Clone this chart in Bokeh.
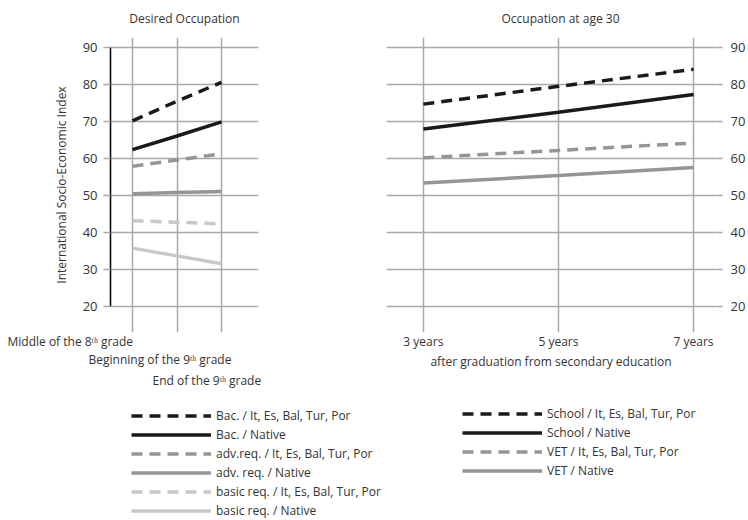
from bokeh.plotting import figure
from bokeh.models import FixedTicker, Legend, LegendItem, Title, Range1d
from bokeh.layouts import row, column
from bokeh.embed import file_html
from bokeh.resources import INLINE

# ---------------- data ----------------
left_x = [0, 1, 2]
left_labels = ["Middle of the 8ᵗʰ grade", "Beginning of the 9ᵗʰ grade", "End of the 9ᵗʰ grade"]
bac_it = [70.2, 75.5, 80.6]
bac_native = [62.4, 66.1, 69.9]
adv_it = [57.9, 59.6, 61.3]
adv_native = [50.5, 50.8, 51.1]
basic_it = [43.2, 42.8, 42.3]
basic_native = [35.8, 33.7, 31.6]

years = [3, 5, 7]
year_labels = ["3 years", "5 years", "7 years"]
school_it = [74.7, 79.5, 84.1]
school_native = [68.0, 72.5, 77.3]
vet_it = [60.2, 62.2, 64.2]
vet_native = [53.4, 55.4, 57.6]

y_ticks = [20, 30, 40, 50, 60, 70, 80, 90]

left_names = ["Bac. / It, Es, Bal, Tur, Por", "Bac. / Native",
              "adv.req. / It, Es, Bal, Tur, Por", "adv. req. / Native",
              "basic req. / It, Es, Bal, Tur, Por", "basic req. / Native"]
right_names = ["School / It, Es, Bal, Tur, Por", "School / Native",
               "VET / It, Es, Bal, Tur, Por", "VET / Native"]

FONT = "Open Sans"
TXT = "#333333"
GRID = "#a8a8a8"
BLACK = "#1a1a1a"
MID = "#959595"
LIGHT = "#c8c8c8"
DASH = "11 7"

styles = [(BLACK, DASH), (BLACK, "solid"), (MID, DASH), (MID, "solid"), (LIGHT, DASH), (LIGHT, "solid")]
left_series = [bac_it, bac_native, adv_it, adv_native, basic_it, basic_native]
right_series = [school_it, school_native, vet_it, vet_native]


def base(fig):
    fig.outline_line_color = None
    fig.background_fill_color = "white"
    fig.border_fill_color = "white"
    fig.title.text_font = FONT
    fig.title.text_font_size = "12px"
    fig.title.text_font_style = "normal"
    fig.title.text_color = TXT
    fig.title.standoff = 18
    fig.title.vertical_align = "top"
    fig.xgrid.grid_line_color = GRID
    fig.xgrid.grid_line_width = 1.5
    fig.ygrid.grid_line_color = GRID
    fig.ygrid.grid_line_width = 1.5
    fig.ygrid.ticker = FixedTicker(ticks=y_ticks)
    for ax in fig.yaxis:
        ax.ticker = FixedTicker(ticks=y_ticks)
        ax.minor_tick_line_color = None
        ax.major_tick_line_color = GRID
        ax.major_tick_line_width = 1.5
        ax.major_tick_out = 7
        ax.major_tick_in = 0
        ax.major_label_text_font = FONT
        ax.major_label_text_font_size = "13px"
        ax.major_label_text_color = TXT


def make_legend(items, loc):
    return Legend(items=items, location=loc, glyph_width=80, glyph_height=19, label_height=19,
                  spacing=0, padding=0, margin=0, label_standoff=5, background_fill_alpha=0,
                  border_line_color=None, label_text_font=FONT, label_text_font_size="12px",
                  label_text_color=TXT, label_text_baseline="middle")


# ---------------- left panel ----------------
p1 = figure(width=330, height=400, x_range=Range1d(-0.494, 2.83), y_range=Range1d(13.0, 92.7),
            output_backend="svg", toolbar_location=None, title="Desired Occupation",
            x_axis_location=None,
            min_border_left=110, min_border_right=72, min_border_top=37, min_border_bottom=68)
base(p1)
p1.title.align = "center"
p1.xgrid.ticker = FixedTicker(ticks=left_x)
ya = p1.yaxis[0]
ya.bounds = (20, 90)
ya.axis_line_color = "black"
ya.axis_line_width = 1.5
ya.major_label_standoff = 6
ya.axis_label = "International Socio-Economic Index"
ya.axis_label_text_font = FONT
ya.axis_label_text_font_size = "12px"
ya.axis_label_text_font_style = "normal"
ya.axis_label_text_color = TXT
ya.axis_label_standoff = 10

for ys, (col, dash) in zip(left_series, styles):
    p1.line(left_x, ys, line_color=col, line_width=3.5, line_dash=dash, line_cap="butt")

# staggered category labels under the left panel
label_shift = [-103, -22, 42]
label_stand = [-4, 2, 2]
for txt, dx, so in zip(left_labels, label_shift, label_stand):
    p1.add_layout(Title(text=txt, align="left", offset=dx, standoff=so,
                        text_font=FONT, text_font_size="12px", text_font_style="normal",
                        text_color=TXT), "below")

# ---------------- right panel ----------------
p2 = figure(width=418, height=400, x_range=Range1d(2.454, 7.325), y_range=Range1d(13.0, 92.7),
            output_backend="svg", toolbar_location=None, title="Occupation at age 30",
            y_axis_location="right",
            min_border_left=56, min_border_right=32, min_border_top=37, min_border_bottom=68)
base(p2)
p2.title.align = "left"
p2.title.offset = 115
p2.xgrid.ticker = FixedTicker(ticks=years)
xa = p2.xaxis[0]
xa.ticker = FixedTicker(ticks=years)
xa.major_label_overrides = {y: lab for y, lab in zip(years, year_labels)}
xa.axis_line_color = None
xa.major_tick_line_color = None
xa.minor_tick_line_color = None
xa.major_tick_out = 0
xa.major_tick_in = 0
xa.major_label_standoff = 0
xa.major_label_text_font = FONT
xa.major_label_text_font_size = "12px"
xa.major_label_text_color = TXT
xa.axis_label = "after graduation from secondary education"
xa.axis_label_text_font = FONT
xa.axis_label_text_font_size = "12px"
xa.axis_label_text_font_style = "normal"
xa.axis_label_text_color = TXT
xa.axis_label_standoff = 0
yb = p2.yaxis[0]
yb.axis_line_color = None
yb.major_label_standoff = 8

for ys, (col, dash) in zip(right_series, styles[:4]):
    p2.line(years, ys, line_color=col, line_width=3.5, line_dash=dash, line_cap="butt")

# ---------------- legends (keys for the two panels) ----------------
lf = figure(width=748, height=120, x_range=Range1d(100, 101), y_range=Range1d(100, 101),
            output_backend="svg", toolbar_location=None,
            x_axis_location=None, y_axis_location=None,
            min_border_left=0, min_border_right=0, min_border_top=0, min_border_bottom=0)
lf.outline_line_color = None
lf.grid.visible = False
lf.title.visible = False

items_l = []
for name, ys, (col, dash) in zip(left_names, left_series, styles):
    r = lf.line(left_x, ys, line_color=col, line_width=3.5, line_dash=dash, line_cap="butt")
    items_l.append(LegendItem(label=name, renderers=[r]))
items_r = []
for name, ys, (col, dash) in zip(right_names, right_series, styles[:4]):
    r = lf.line(years, ys, line_color=col, line_width=3.5, line_dash=dash, line_cap="butt")
    items_r.append(LegendItem(label=name, renderers=[r]))

lf.add_layout(make_legend(items_l, (131, 0)))
lf.add_layout(make_legend(items_r, (462, 40)))

layout = column(row(p1, p2), lf)
open("out.html", "w").write(file_html(layout, INLINE))
